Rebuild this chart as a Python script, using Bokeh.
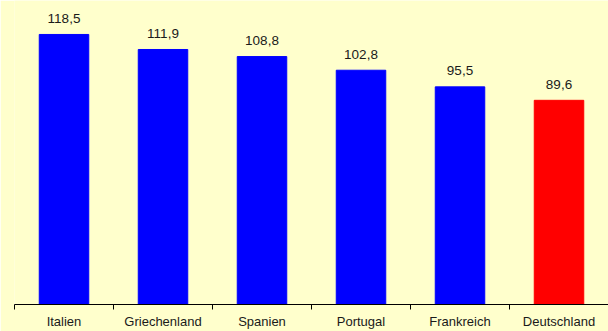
from bokeh.plotting import figure
from bokeh.models import Range1d, FixedTicker, ColumnDataSource
from bokeh.embed import file_html
from bokeh.resources import INLINE
from bokeh.core.properties import value

countries = ["Italien", "Griechenland", "Spanien", "Portugal", "Frankreich", "Deutschland"]
values = [118.5, 111.9, 108.8, 102.8, 95.5, 89.6]
colors = ["#0000FF", "#0000FF", "#0000FF", "#0000FF", "#0000FF", "#FF0000"]
labels = [f"{v:.1f}".replace(".", ",") for v in values]

n = len(countries)
xs = [i + 0.5 for i in range(n)]
src = ColumnDataSource(dict(x=xs, top=values, color=colors, label=labels))

bg = "#FFFFCC"
p = figure(width=608, height=331, output_backend="svg", toolbar_location=None,
           x_range=Range1d(0, n), y_range=Range1d(0, 133.4),
           min_border_left=14, min_border_right=0, min_border_top=0, min_border_bottom=26)
p.background_fill_color = bg
p.border_fill_color = bg
p.outline_line_color = None
p.grid.visible = False
p.yaxis.visible = False

p.vbar(x="x", top="top", width=0.5, color="color", source=src)
p.text(x="x", y="top", text="label", source=src, text_align="center", text_baseline="alphabetic",
       y_offset=-16, text_font=value("Liberation Sans"), text_font_size="13.5px", text_color="#1a1a1a")

ax = p.xaxis[0]
ax.ticker = FixedTicker(ticks=xs, minor_ticks=list(range(n + 1)))
ax.major_label_overrides = {x: c for x, c in zip(xs, countries)}
ax.major_tick_out = 0
ax.major_tick_in = 0
ax.minor_tick_out = 5
ax.minor_tick_in = 0
ax.axis_line_color = "#000000"
ax.minor_tick_line_color = "#000000"
ax.major_label_standoff = 4
ax.major_label_text_font = "Liberation Sans"
ax.major_label_text_font_size = "13px"
ax.major_label_text_color = "#1a1a1a"

open("out.html", "w").write(file_html(p, INLINE))
